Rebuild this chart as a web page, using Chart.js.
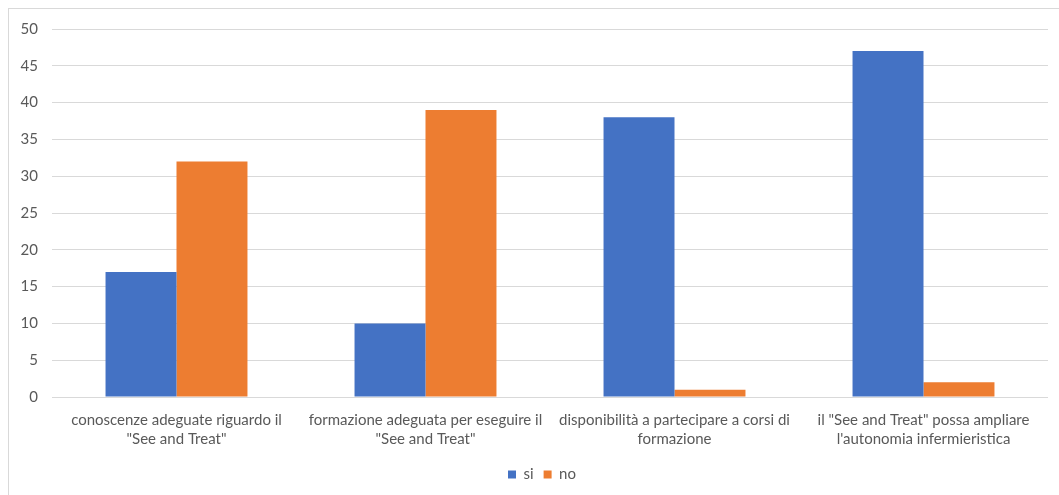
<!DOCTYPE html>
<html><head><meta charset="utf-8">
<script src="https://cdn.jsdelivr.net/npm/chart.js@4"></script>
<style>
html,body{margin:0;padding:0;background:#fff;overflow:hidden;}
#frame{position:absolute;left:8px;top:8px;width:1200px;height:700px;border:1px solid #d9d9d9;box-sizing:border-box;}
#c{position:absolute;left:0;top:0;}
</style></head>
<body>
<div id="frame"></div>
<canvas id="c" width="1059" height="495"></canvas>
<script>
const categories = [
  ['conoscenze adeguate riguardo il', '"See and Treat"'],
  ['formazione adeguata per eseguire il', '"See and Treat"'],
  ['disponibilità a partecipare a corsi di', 'formazione'],
  ['il "See and Treat" possa ampliare', "l'autonomia infermieristica"]
];
const siValues = [17, 10, 38, 47];
const noValues = [32, 39, 1, 2];
const seriesNames = ['si', 'no'];
const yMin = 0, yMax = 50, yStep = 5;

const FONT = 'Lato, "Open Sans", sans-serif';
const legendShift = {
  id: 'legendShift',
  afterLayout(chart) {
    const lg = chart.legend;
    if (lg) { lg.left += 36; lg.right += 0; }
  }
};
new Chart(document.getElementById('c'), {
  type: 'bar',
  data: {
    labels: categories,
    datasets: [
      {label: seriesNames[0], data: siValues, backgroundColor: '#4472c4'},
      {label: seriesNames[1], data: noValues, backgroundColor: '#ed7d31'}
    ]
  },
  options: {
    responsive: false,
    animation: false,
    devicePixelRatio: 1,
    layout: {padding: {top: 29, right: 11, left: 0, bottom: 3}},
    datasets: {bar: {categoryPercentage: 0.57, barPercentage: 1.0}},
    scales: {
      x: {
        grid: {display: false},
        border: {display: false},
        ticks: {color: '#595959', font: {family: FONT, size: 15, lineHeight: 1.3}, maxRotation: 0, autoSkip: false, padding: 5},
        afterFit: s => { s.height = 60; }
      },
      y: {
        min: yMin, max: yMax,
        grid: {color: '#d9d9d9', drawTicks: false},
        border: {display: false},
        ticks: {stepSize: yStep, color: '#595959', font: {family: FONT, size: 15}, padding: 14},
        afterFit: s => { s.width = 52; }
      }
    },
    plugins: {
      legend: {
        position: 'bottom',
        labels: {color: '#595959', font: {family: FONT, size: 15}, boxWidth: 8, boxHeight: 8, padding: 10}
      },
      tooltip: {enabled: false}
    }
  },
  plugins: [legendShift]
});
</script>
</body></html>
